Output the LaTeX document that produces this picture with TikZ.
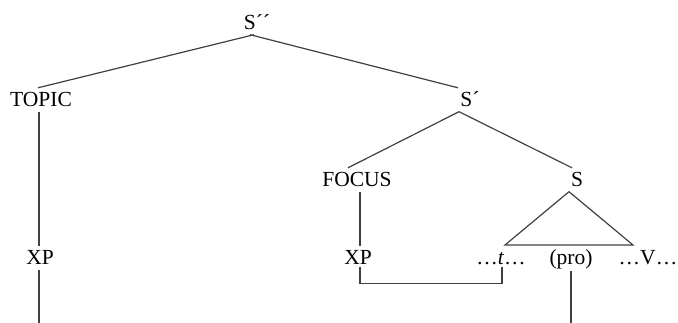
\documentclass[tikz,border=0pt]{standalone}
\usepackage{fontspec}
\setmainfont{Liberation Serif}
\begin{document}
\begin{tikzpicture}[x=1pt,y=-1pt,
  lbl/.style={anchor=base,inner xsep=0pt,inner ysep=4.5pt,text height=14.5pt,text depth=0pt,font=\fontsize{21.5}{26}\selectfont},
  branch/.style={draw=black!75,line width=1.2pt}]
\useasboundingbox (0,0) rectangle (678,323);
\node[lbl] (Spp) at (257,30) {S´´};
\node[lbl] (topic) at (41,107) {TOPIC};
\node[lbl] (Sp) at (470,107) {S´};
\node[lbl] (focus) at (357,187) {FOCUS};
\node[lbl] (S) at (577,187) {S};
\node[lbl] (xp1) at (40,265) {XP};
\node[lbl] (xp2) at (358,265) {XP};
\node[lbl] (t) at (501,265) {\dots\textit{t}\dots};
\node[lbl] (pro) at (571,265) {(pro)};
\node[lbl] (v) at (648,265) {\dots V\dots};
\coordinate (bot1) at (39,323);
\coordinate (bot2) at (571,323);
\coordinate (triL) at (505,245);
\coordinate (triR) at (633,245);
\draw[branch] ([xshift=-3pt]Spp.south) -- ([xshift=-3pt]topic.north);
\draw[branch] ([xshift=-7pt]Spp.south) -- ([xshift=-12pt]Sp.north);
\draw[branch] ([xshift=-2pt]topic.south) -- ([xshift=-1pt]xp1.north);
\draw[branch] ([xshift=-1pt]xp1.south) -- (bot1);
\draw[branch] ([xshift=-11pt]Sp.south) -- ([xshift=-9pt]focus.north);
\draw[branch] ([xshift=-11pt]Sp.south) -- ([xshift=-5pt]S.north);
\draw[branch] ([xshift=3pt]focus.south) -- ([xshift=2pt]xp2.north);
\draw[branch] ([xshift=-8pt]S.south) -- (triL) -- (triR) -- cycle;
\draw[branch] ([xshift=2pt,yshift=3pt]xp2.south) -- ++(0,17) -| ([xshift=1pt,yshift=3pt]t.south);
\draw[branch] ([yshift=-1pt]pro.south) -- (bot2);
\end{tikzpicture}
\end{document}
